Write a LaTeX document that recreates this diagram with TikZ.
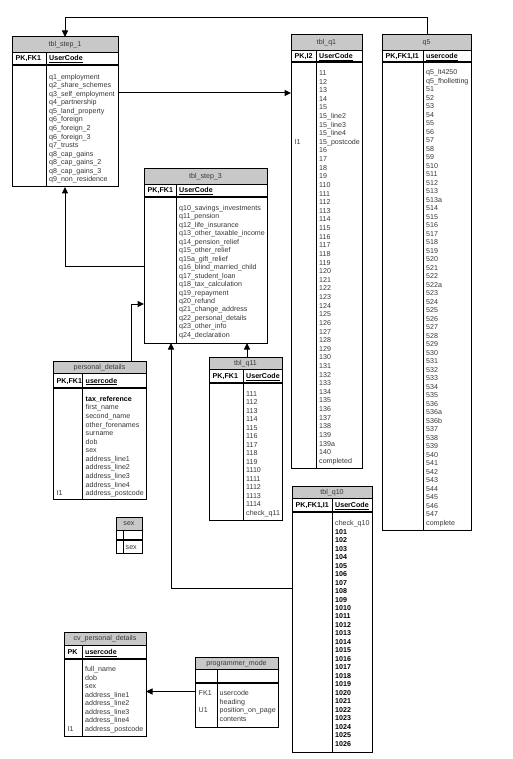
\documentclass[tikz,border=0pt]{standalone}
\usepackage{fontspec}
\setmainfont{Liberation Sans}
\usetikzlibrary{arrows.meta}
\definecolor{hdr}{RGB}{200,200,200}
\definecolor{txt}{RGB}{55,55,55}
\newcommand\ff{\fontsize{7.1}{8.5}\selectfont}
\tikzset{
  tblbox/.style={draw=black, line width=1pt, inner sep=0pt, outer sep=0pt, rectangle},
  tline/.style={line width=0.9pt},
  rline/.style={line width=1.3pt},
  ttl/.style={inner sep=0pt, font=\ff, text=txt},
  fld/.style={inner sep=0pt, anchor=base west, font=\ff, text=txt},
  keyb/.style={inner sep=0pt, anchor=base west, font=\ff\bfseries, text=black},
  conn/.style={line width=1pt, -{Triangle[length=6.5pt,width=6pt]}},
}
% #1 name, #2 x1, #3 y1, #4 x2, #5 y2, #6 header bottom, #7 key row bottom, #8 divider x, #9 title
\newcommand\ertable[9]{%
  \fill[hdr] (#2,#3) rectangle (#4,#6);
  \draw[tline] (#2,#6) -- (#4,#6) (#8,#7) -- (#8,#5);
  \draw[rline] (#2,#7) -- (#4,#7);
  \draw[tline] (#8,#6) -- (#8,#7);
  \node[tblbox, minimum width={#4-#2}, minimum height={#5-#3}] (#1) at ({(#2+#4)/2},{(#3+#5)/2}) {};
  \node[ttl] (#1-title) at ({(#2+#4)/2},{(#3+#6)/2}) {#9};
}
% #1 name, #2 x, #3 first centre y, #4 step, #5 list
\newcommand\fields[5]{%
  \foreach \t [count=\i from 0] in {#5}
    \node[fld] (#1-f\i) at (#2,{#3+2.4+\i*#4}) {\t};
}
\newcommand\bfields[5]{%
  \foreach \t [count=\i from 0] in {#5}
    \node[keyb] (#1-b\i) at (#2,{#3+2.4+\i*#4}) {\t};
}
\begin{document}
\begin{tikzpicture}[x=1pt,y=-1pt]
\fill[white] (0,0) rectangle (513,759);
\useasboundingbox (0,0) rectangle (513,759);

% ---------------- tbl_step_1
\ertable{s1}{12}{37}{118}{187}{52}{65}{46}{tbl\_step\_1}
\node[keyb] (s1-k) at (15.5,61) {PK,FK1};
\node[keyb] (s1-u) at (49,61) {\underline{UserCode}};
\fields{s1}{49}{76.7}{8.56}{q1\_employment,q2\_share\_schemes,q3\_self\_employment,q4\_partnership,q5\_land\_property,q6\_foreign,q6\_foreign\_2,q6\_foreign\_3,q7\_trusts,q8\_cap\_gains,q8\_cap\_gains\_2,q8\_cap\_gains\_3,q9\_non\_residence}

% ---------------- tbl_step_3
\ertable{s3}{144}{169}{267}{343}{184}{197}{176}{tbl\_step\_3}
\node[keyb] (s3-k) at (147.5,193) {PK,FK1};
\node[keyb] (s3-u) at (179,193) {\underline{UserCode}};
\fields{s3}{179}{207.7}{8.49}{q10\_savings\_investments,q11\_pension,q12\_life\_insurance,q13\_other\_taxable\_income,q14\_pension\_relief,q15\_other\_relief,q15a\_gift\_relief,q16\_blind\_married\_child,q17\_student\_loan,q18\_tax\_calculation,q19\_repayment,q20\_refund,q21\_change\_address,q22\_personal\_details,q23\_other\_info,q24\_declaration}

% ---------------- tbl_q1
\ertable{q1}{291}{35}{362}{468}{50}{62}{316}{tbl\_q1}
\node[keyb] (q1-k) at (294.5,58.5) {PK,I2};
\node[keyb] (q1-u) at (319,58.5) {\underline{UserCode}};
\fields{q1}{319}{73}{8.62}{11,12,13,14,15,15\_line2,15\_line3,15\_line4,15\_postcode,16,17,18,19,110,111,112,113,114,115,116,117,118,119,120,121,122,123,124,125,126,127,128,129,130,131,132,133,134,135,136,137,138,139,139a,140,completed}
\node[fld] (q1-i1) at (294.5,{73+2.4+8*8.62}) {I1};

% ---------------- q5
\ertable{q5}{382}{35}{471}{530}{50}{62}{423}{q5}
\node[keyb] (q5-k) at (385.5,58.5) {PK,FK1,I1};
\node[keyb] (q5-u) at (426,58.5) {\underline{usercode}};
\fields{q5}{426}{72.3}{8.5}{q5\_lt4250,q5\_fholletting,51,52,53,54,55,56,57,58,59,510,511,512,513,513a,514,515,516,517,518,519,520,521,522,522a,523,524,525,526,527,528,529,530,531,532,533,534,535,536,536a,536b,537,538,539,540,541,542,543,544,545,546,547,complete}

% ---------------- tbl_q11
\ertable{q11}{209}{357}{282}{520}{369.5}{383}{243}{tbl\_q11}
\node[keyb] (q11-k) at (212.5,378.7) {PK,FK1};
\node[keyb] (q11-u) at (246,378.7) {\underline{UserCode}};
\fields{q11}{246}{394}{8.5}{111,112,113,114,115,116,117,118,119,1110,1111,1112,1113,1114,check\_q11}

% ---------------- personal_details
\ertable{pd}{53}{361}{146}{499}{373.5}{388}{82.5}{personal\_details}
\node[keyb] (pd-k) at (56.5,383.2) {PK,FK1};
\node[keyb] (pd-u) at (85.5,383.2) {\underline{usercode}};
\node[keyb] (pd-tax) at (85.5,{399+2.4}) {tax\_reference};
\fields{pd}{85.5}{407.57}{8.57}{first\_name,second\_name,other\_forenames,surname,dob,sex,address\_line1,address\_line2,address\_line3,address\_line4,address\_postcode}
\node[fld] (pd-i1) at (56.5,{399+2.4+11*8.57}) {I1};

% ---------------- sex
\ertable{sx}{116}{517}{142}{553}{530}{540}{123}{sex}
\node[fld] (sx-f) at (125.5,549.3) {sex};

% ---------------- tbl_q10
\ertable{q10}{292}{486}{372}{752}{498.5}{512}{332}{tbl\_q10}
\node[keyb] (q10-k) at (295.5,507.7) {PK,FK1,I1};
\node[keyb] (q10-u) at (335,507.7) {\underline{UserCode}};
\node[fld] (q10-c) at (335,{523.3+2.4}) {check\_q10};
\bfields{q10}{335}{531.78}{8.48}{101,102,103,104,105,106,107,108,109,1010,1011,1012,1013,1014,1015,1016,1017,1018,1019,1020,1021,1022,1023,1024,1025,1026}

% ---------------- cv_personal_details
\ertable{cv}{64}{632}{146}{736}{645}{659}{82}{cv\_personal\_details}
\node[keyb] (cv-k) at (67.5,654.5) {PK};
\node[keyb] (cv-u) at (85,654.5) {\underline{usercode}};
\fields{cv}{85}{669.3}{8.5}{full\_name,dob,sex,address\_line1,address\_line2,address\_line3,address\_line4,address\_postcode}
\node[fld] (cv-i1) at (67.5,{669.3+2.4+7*8.5}) {I1};

% ---------------- programmer_mode
\ertable{pm}{195}{657}{278}{727}{669.5}{683}{217}{programmer\_mode}
\fields{pm}{219.5}{693.3}{8.5}{usercode,heading,position\_on\_page,contents}
\node[fld] (pm-fk) at (198.5,{693.3+2.4}) {FK1};
\node[fld] (pm-u1) at (198.5,{693.3+2.4+2*8.5}) {U1};

% ---------------- connectors
\draw[conn] (s1.east |- 0,93) -- (q1.west |- 0,93);
\draw[conn] (s3.west |- 0,266) -| (s1.south);
\draw[conn] (pd.north -| 131,0) |- (s3.west |- 0,304);
\draw[conn] (q11.north -| 247,0) -- (s3.south -| 247,0);
\draw[conn] (q10.west |- 0,588) -| (s3.south -| 171,0);
\draw[conn] (pm.west |- 0,691.5) -- (cv.east |- 0,691.5);
\draw[conn] (q5.north -| 427,0) -- (427,18) -| (s1.north);
\end{tikzpicture}
\end{document}
